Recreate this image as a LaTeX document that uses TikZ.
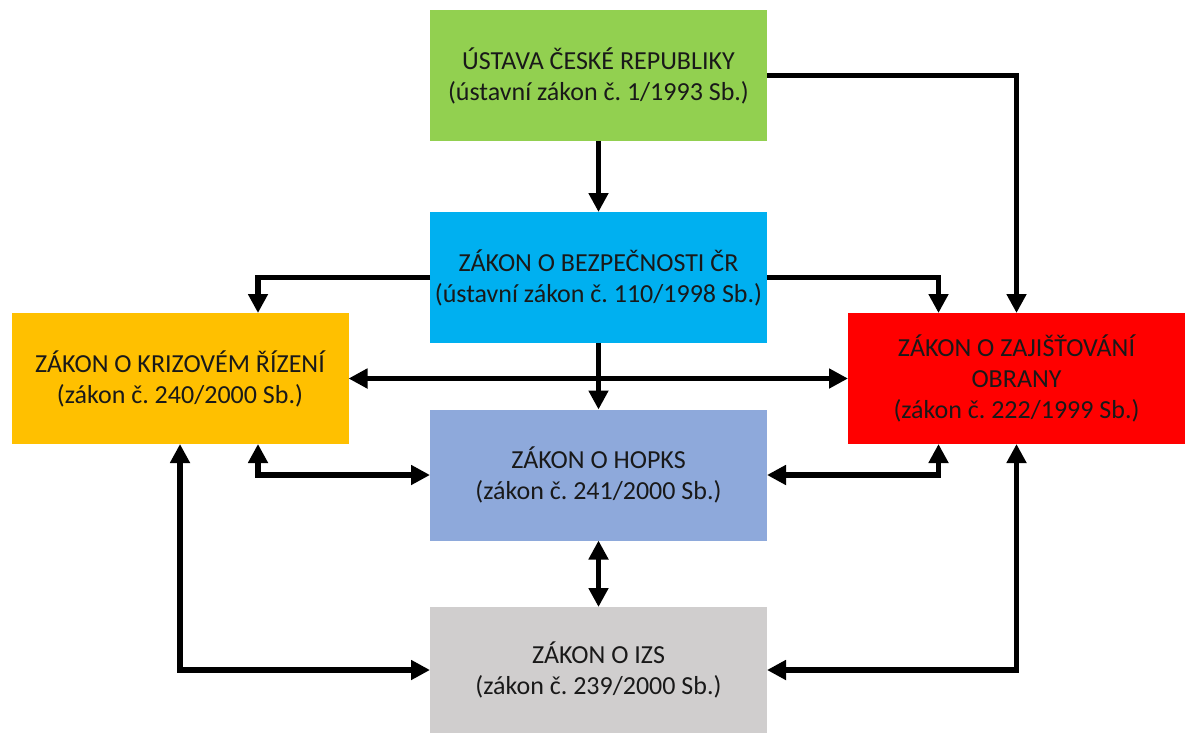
\documentclass[tikz,border=0pt]{standalone}
\usepackage{fontspec}
\setmainfont{Carlito}
\usetikzlibrary{arrows.meta}

\definecolor{zelena}{HTML}{92D050}
\definecolor{modra}{HTML}{00B0F0}
\definecolor{oranzova}{HTML}{FFC000}
\definecolor{cervena}{HTML}{FF0000}
\definecolor{fialova}{HTML}{8EA9DB}
\definecolor{seda}{HTML}{D0CECE}

\begin{document}
\frenchspacing
\begin{tikzpicture}[x=1pt,y=-1pt]
      \tikzstyle{box} = [rectangle,inner sep=0pt,outer sep=0pt,minimum width=337pt,minimum height=131pt,align=center,text=black!90,font=\fontsize{26}{31}\selectfont]
      \tikzstyle{arr} = [line width=5.5pt,-{Triangle[width=19pt,length=19pt]}]
      \tikzstyle{arrr} = [line width=5.5pt,{Triangle[width=19pt,length=19pt]}-{Triangle[width=19pt,length=19pt]}]

      \useasboundingbox (0,0) rectangle (1190,733);

      \node[box,fill=zelena](ustava) at (598.5,75.5) {ÚSTAVA ČESKÉ REPUBLIKY\\(ústavní zákon č. 1/1993 Sb.)};
      \node[box,fill=modra](bezpecnost) at (598.5,277.5) {ZÁKON O BEZPEČNOSTI ČR\\(ústavní zákon č. 110/1998 Sb.)};
      \node[box,fill=oranzova](krizove) at (180,378.5) {ZÁKON O KRIZOVÉM ŘÍZENÍ\\(zákon č. 240/2000 Sb.)};
      \node[box,fill=cervena](obrana) at (1016.5,378.5) {ZÁKON O ZAJIŠŤOVÁNÍ\\OBRANY\\(zákon č. 222/1999 Sb.)};
      \node[box,fill=fialova](hopks) at (598.5,475) {ZÁKON O HOPKS\\(zákon č. 241/2000 Sb.)};
      \node[box,fill=seda,minimum height=126pt](izs) at (598.5,670) {ZÁKON O IZS\\(zákon č. 239/2000 Sb.)};

      \draw[arr] (ustava) -- (bezpecnost);
      \draw[arr] (bezpecnost) -- (hopks);
      \draw[arrr] (hopks) -- (izs);
      \draw[arrr] (krizove) -- (obrana);

      \draw[arr] (ustava.east) -| (obrana.north);
      \draw[arr] (bezpecnost.west) -| ([xshift=78pt]krizove.north);
      \draw[arr] (bezpecnost.east) -| ([xshift=-78pt]obrana.north);

      \draw[arrr] ([xshift=78pt]krizove.south) |- (hopks.west);
      \draw[arrr] ([xshift=-78pt]obrana.south) |- (hopks.east);
      \draw[arrr] (krizove.south) |- (izs.west);
      \draw[arrr] (obrana.south) |- (izs.east);

\end{tikzpicture}
\end{document}
